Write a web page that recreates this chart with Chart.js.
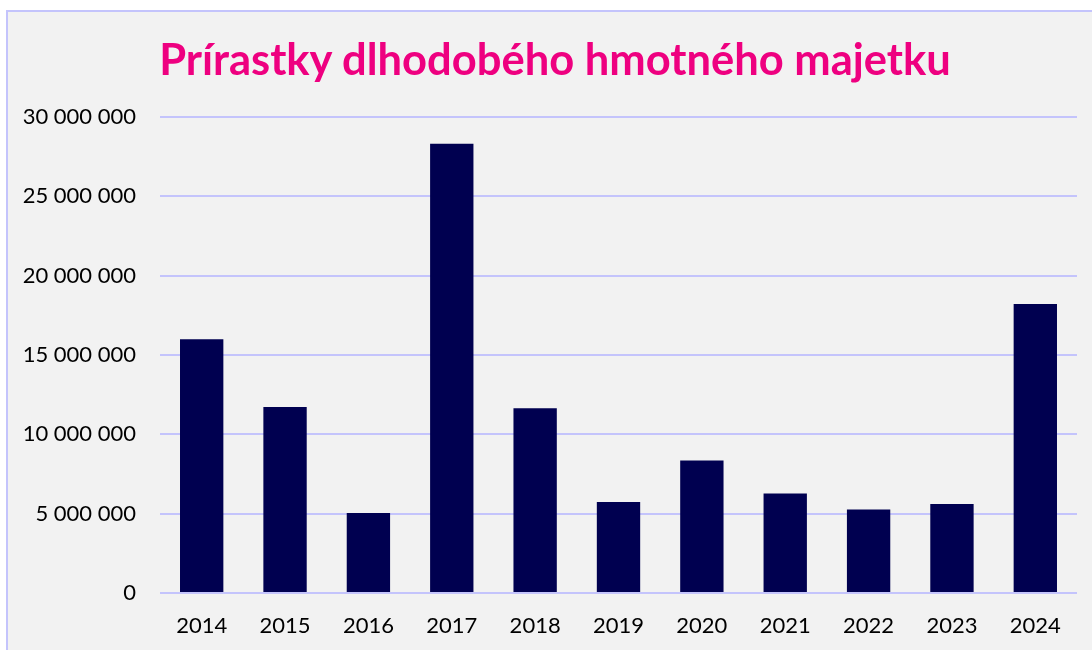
<!DOCTYPE html>
<html>
<head>
<meta charset="utf-8">
<script src="https://cdn.jsdelivr.net/npm/chart.js@4/dist/chart.umd.min.js"></script>
<style>
  html, body { margin: 0; padding: 0; background: #ffffff; overflow: hidden; }
  #frame {
    position: absolute; left: 6px; top: 10px; width: 1120px; height: 700px;
    background: #f2f2f2; border: 2px solid #c4c4fc; box-sizing: border-box;
  }
  #wrap { position: absolute; left: 0; top: 0; width: 1092px; height: 650px; }
  #title {
    position: absolute; left: 0; width: 1110px; top: 37px; text-align: center;
    font-family: Lato, sans-serif; font-weight: bold; font-size: 43.5px; line-height: 43px;
    color: #ee0080; white-space: nowrap;
  }
</style>
</head>
<body>
<div id="frame"></div>
<div id="wrap"><canvas id="chart"></canvas></div>
<div id="title">Prírastky dlhodobého hmotného majetku</div>
<script>
const years = ["2014", "2015", "2016", "2017", "2018", "2019", "2020", "2021", "2022", "2023", "2024"];
const increments = [16000000, 11720000, 5040000, 28320000, 11650000, 5730000, 8350000, 6270000, 5260000, 5610000, 18220000];
const yTicks = [0, 5000000, 10000000, 15000000, 20000000, 25000000, 30000000];

function formatNumber(v) {
  return String(v).replace(/\B(?=(\d{3})+(?!\d))/g, " ");
}

new Chart(document.getElementById("chart"), {
  type: "bar",
  data: {
    labels: years,
    datasets: [{
      data: increments,
      backgroundColor: "#000050",
      categoryPercentage: 0.52,
      barPercentage: 1,
    }],
  },
  options: {
    responsive: true,
    maintainAspectRatio: false,
    animation: false,
    layout: { padding: { left: 0, right: 15, top: 117, bottom: 0 } },
    plugins: {
      legend: { display: false },
      tooltip: { enabled: false },
    },
    scales: {
      x: {
        grid: { display: false },
        border: { display: false },
        ticks: { color: "#000000", font: { family: "Lato", size: 22 }, padding: 12, maxRotation: 0 },
        afterFit: (scale) => { scale.height = 57; },
      },
      y: {
        min: 0,
        max: 30000000,
        afterBuildTicks: (scale) => { scale.ticks = yTicks.map((v) => ({ value: v })); },
        grid: { color: "#c4c4fc", lineWidth: 2, drawTicks: false },
        border: { display: false },
        ticks: {
          color: "#000000",
          font: { family: "Lato", size: 22 },
          padding: 24,
          callback: (v) => formatNumber(v),
        },
        afterFit: (scale) => { scale.width = 160; },
      },
    },
  },
});
</script>
</body>
</html>
